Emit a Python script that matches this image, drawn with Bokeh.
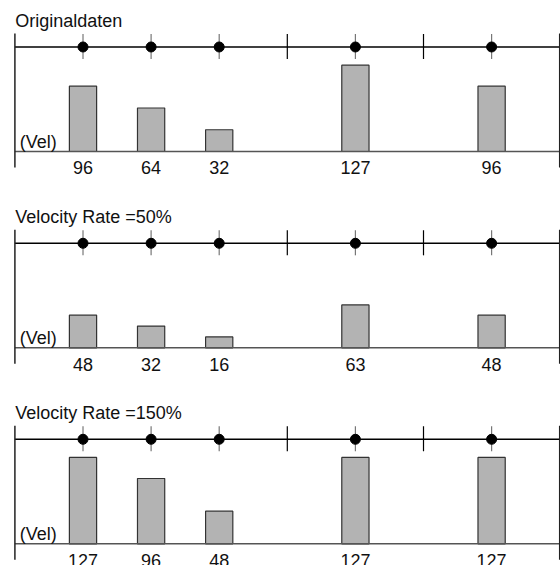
from bokeh.plotting import figure
from bokeh.layouts import column
from bokeh.models import Range1d, ColumnDataSource
from bokeh.core.properties import value
from bokeh.embed import file_html
from bokeh.resources import INLINE

# ---- data ----
titles = ["Originaldaten", "Velocity Rate =50%", "Velocity Rate =150%"]
note_positions = [0, 1, 2, 4, 6]
grid_positions = [0, 1, 2, 3, 4, 5, 6]
vel_original = [96, 64, 32, 127, 96]
vel_50 = [48, 32, 16, 63, 48]
vel_150 = [127, 96, 48, 127, 127]
axis_label = "(Vel)"

panels = [(titles[0], vel_original), (titles[1], vel_50), (titles[2], vel_150)]
heights = [204, 196, 165]
base_px = [151, 143.3, 143.3]

FONT = "Liberation Sans"
FS = "18px"
PX_PER_VEL = 0.68
X0, X1 = -1.2115, 7.0117

def make_panel(title, vels, h, base):
    y_end = base / PX_PER_VEL
    y_start = -(h - base) / PX_PER_VEL
    p = figure(width=560, height=h, x_range=Range1d(X0, X1), y_range=Range1d(y_start, y_end),
               x_axis_type=None, y_axis_type=None, toolbar_location=None,
               output_backend="svg", min_border=0, outline_line_color=None,
               background_fill_color="white", border_fill_color="white")
    p.grid.visible = False

    t_line = 153.7      # timeline level
    t_top, t_bot = 172.9, 136.0
    frame_top, frame_bot = 173.5, -23.5

    # bars
    src = ColumnDataSource(dict(x=note_positions, v=vels, lab=[str(v) for v in vels]))
    p.vbar(x="x", top="v", bottom=0, width=0.4, source=src,
           fill_color="#b3b3b3", line_color="#333333", line_width=1.2)

    # baseline
    p.segment(x0=[-1], y0=[0], x1=[7], y1=[0], line_color="#555555", line_width=1.5)
    # timeline
    p.segment(x0=[-1], y0=[t_line], x1=[7], y1=[t_line], line_color="#000000", line_width=1.5)
    # frame verticals
    p.segment(x0=[-1, 7], y0=[frame_bot, frame_bot], x1=[-1, 7], y1=[frame_top, frame_top],
              line_color="#222222", line_width=1.5)
    # grid ticks
    other = [g for g in grid_positions if g not in note_positions]
    p.segment(x0=other, y0=[t_bot] * len(other), x1=other, y1=[t_top] * len(other),
              line_color="#000000", line_width=1.2)
    p.segment(x0=note_positions, y0=[t_bot] * len(note_positions), x1=note_positions,
              y1=[t_top] * len(note_positions), line_color="#777777", line_width=1.2)
    # note dots
    p.scatter(x=note_positions, y=[t_line] * len(note_positions), size=10,
              fill_color="#000000", line_color="#000000")

    # value labels
    p.text(x="x", y=-24.2, text="lab", source=src, text_align="center",
           text_baseline="alphabetic", text_font=value(FONT), text_font_size=FS,
           text_color="#111111")
    # title
    p.text(x=[-0.995], y=[192.0], text=[title], text_align="left", text_baseline="alphabetic",
           text_font=value(FONT), text_font_size=FS, text_color="#111111")
    # (Vel)
    p.text(x=[-0.93], y=[14.0], text=[axis_label], text_align="left", text_baseline="alphabetic",
           text_font=value(FONT), text_font_size=FS, text_color="#111111")
    return p

figs = [make_panel(t, v, h, b) for (t, v), h, b in zip(panels, heights, base_px)]
layout = column(*figs, spacing=0)

open("out.html", "w").write(file_html(layout, INLINE))
